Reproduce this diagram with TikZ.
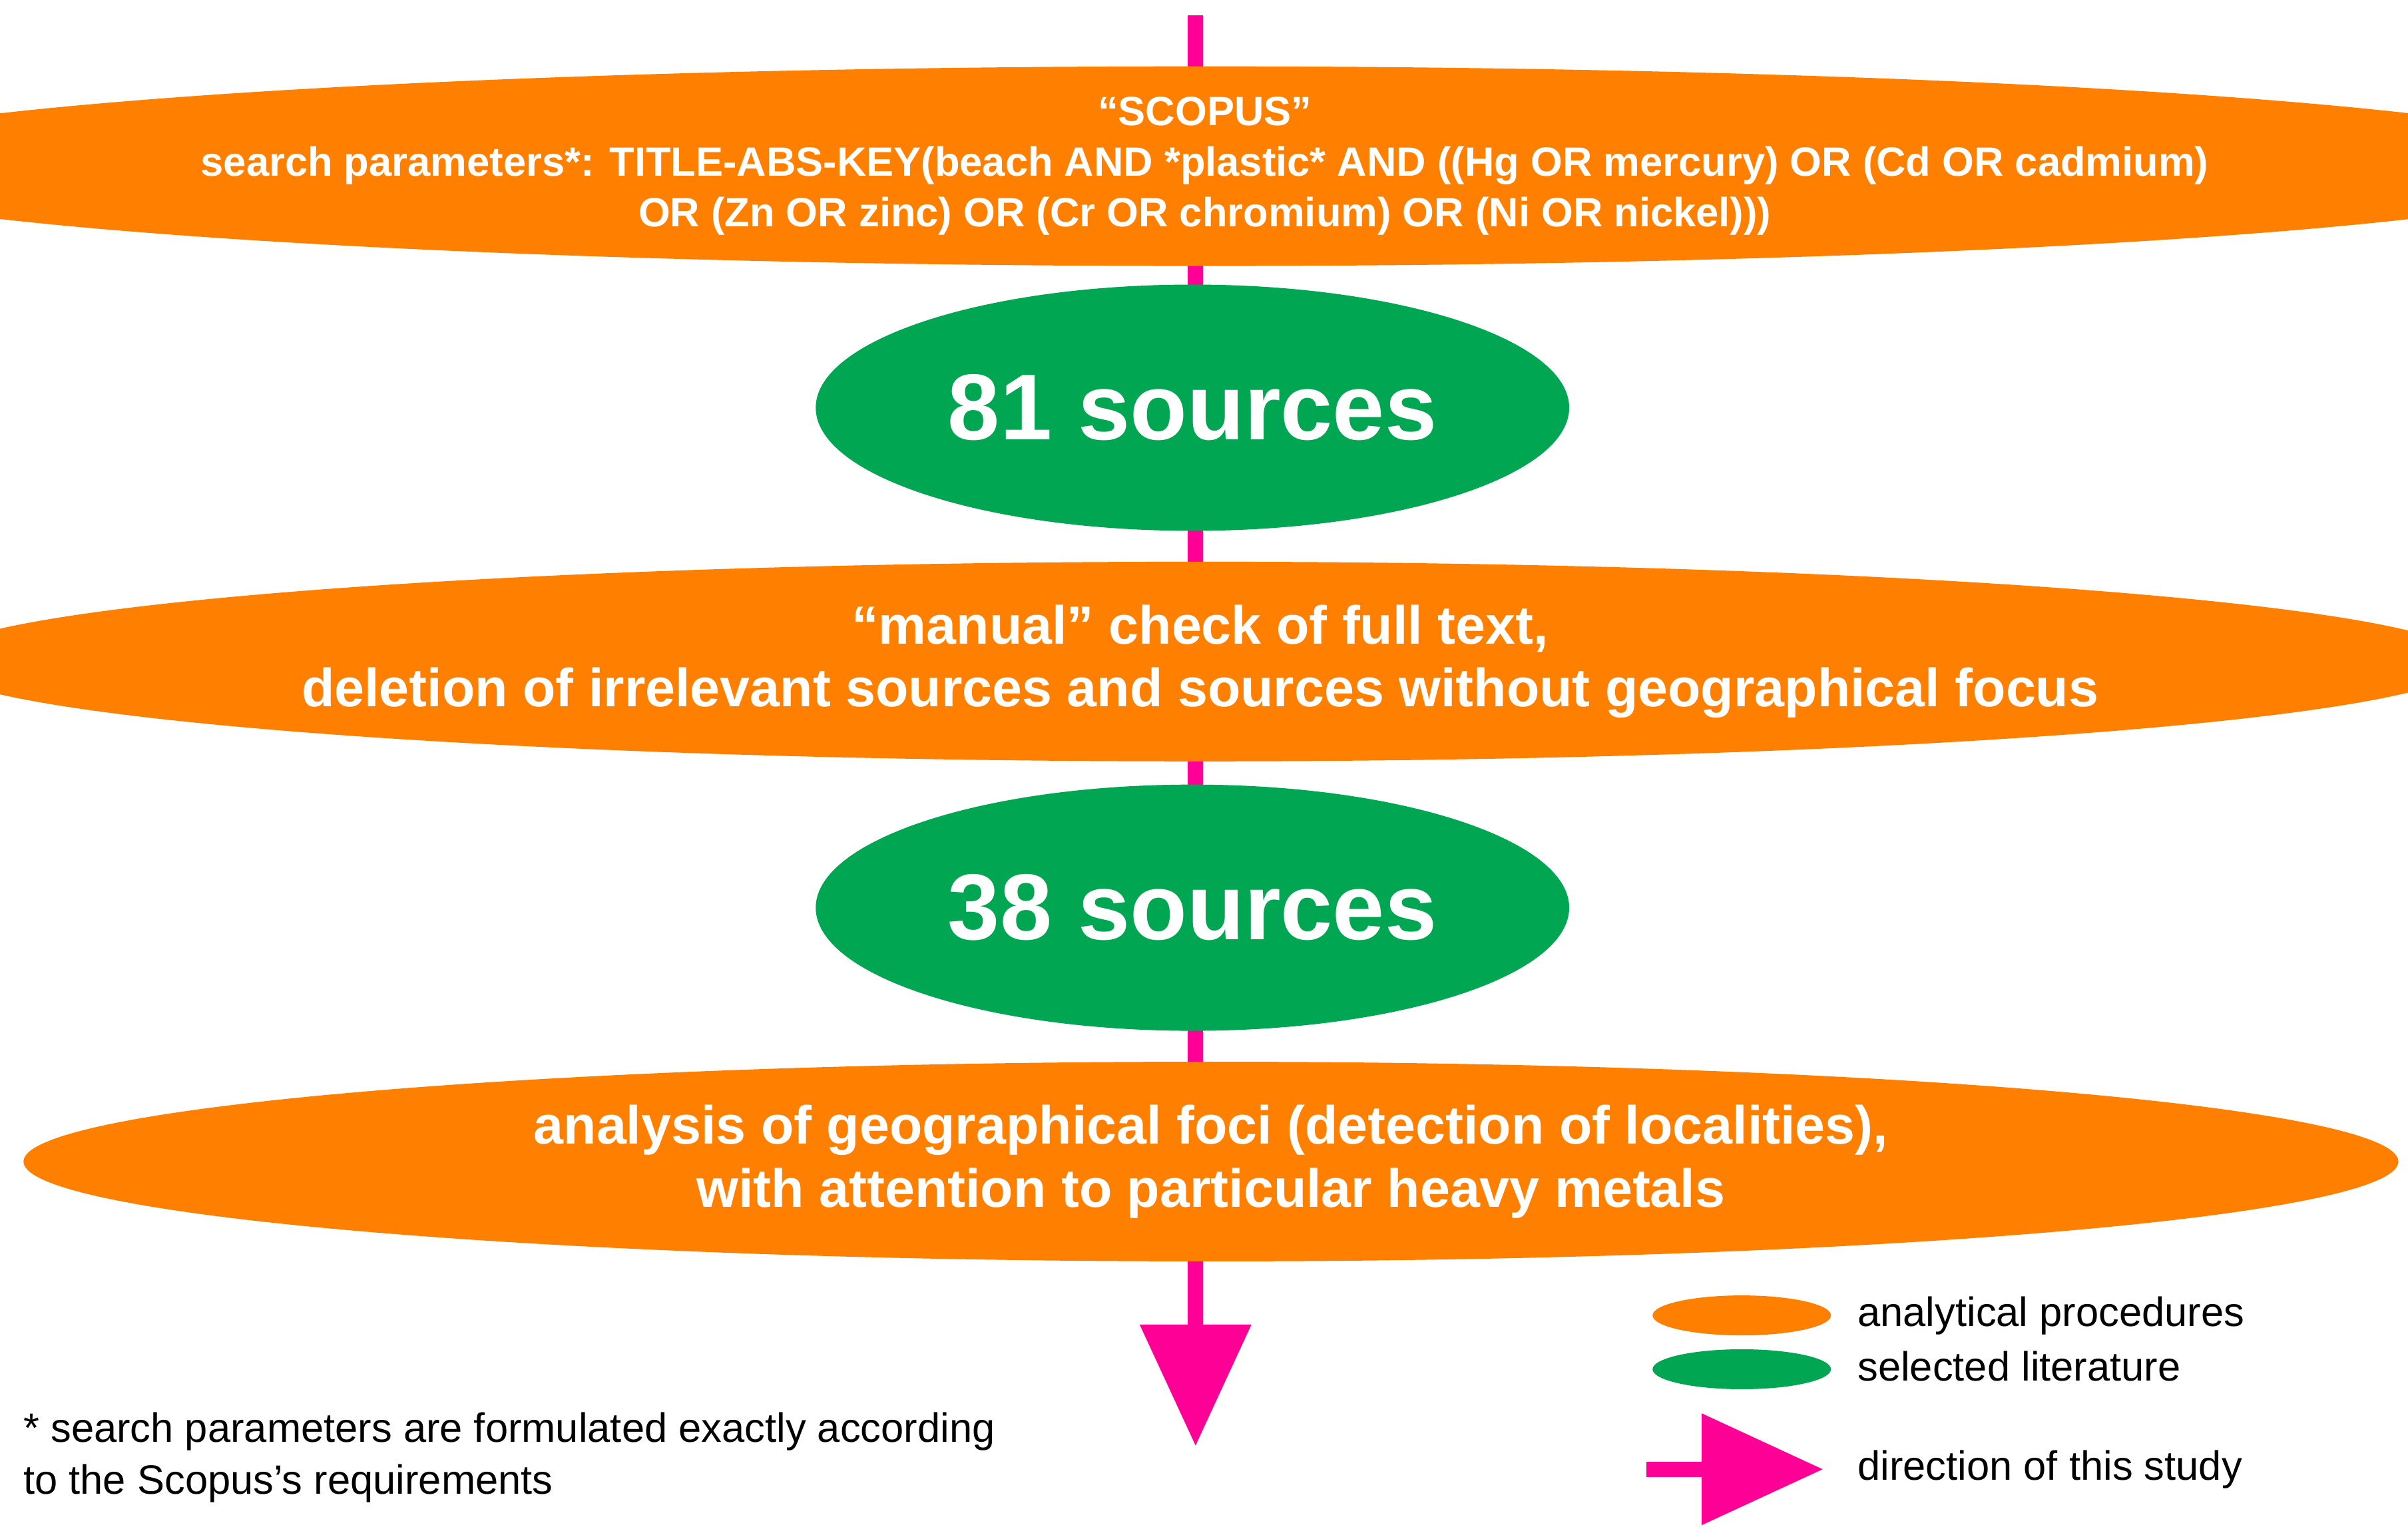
\documentclass[tikz,border=0pt]{standalone}
\usepackage{fontspec}
\setmainfont{Liberation Sans}
\usetikzlibrary{arrows.meta,shapes.geometric}
\definecolor{org}{RGB}{255,128,0}
\definecolor{grn}{RGB}{0,166,81}
\definecolor{mag}{RGB}{255,0,150}
\begin{document}
\begin{tikzpicture}[x=0.02311cm,y=-0.02311cm,
  proc/.style={ellipse,fill=org,text=white,inner sep=0pt,align=center,font=\bfseries},
  lit/.style={ellipse,fill=grn,text=white,inner sep=0pt,align=center,minimum width=11.32cm,minimum height=3.7cm,font=\bfseries\fontsize{40}{48}\selectfont},
  flow/.style={draw=mag,line width=6.5pt,-{Triangle[width=46pt,length=52pt]}},
  note/.style={anchor=west,font=\fontsize{17.5}{22}\selectfont,inner sep=0pt}]
\useasboundingbox (0,0) rectangle (1565,995);
\coordinate (top) at (777,10);
\coordinate (tip) at (777,940);
\draw[flow] (top) -- (tip);
\node[proc,minimum width=35.73cm,minimum height=3.0cm,font=\bfseries\fontsize{17.5}{21.7}\selectfont] (scopus) at (783,108)
 {“SCOPUS”\\search parameters*: TITLE-ABS-KEY(beach AND *plastic* AND ((Hg OR mercury) OR (Cd OR cadmium)\\OR (Zn OR zinc) OR (Cr OR chromium) OR (Ni OR nickel)))};
\node[lit] (s81) at (775,265) {81 sources};
\node[proc,minimum width=35.59cm,minimum height=3.0cm,font=\bfseries\fontsize{23}{27}\selectfont] (manual) at (780,430)
 {“manual” check of full text,\\deletion of irrelevant sources and sources without geographical focus};
\node[lit] (s38) at (775,590) {38 sources};
\node[proc,minimum width=35.68cm,minimum height=3.0cm,font=\bfseries\fontsize{23}{27}\selectfont] (anal) at (787,755)
 {analysis of geographical foci (detection of localities),\\with attention to particular heavy metals};
% legend
\node[ellipse,fill=org,minimum width=2.68cm,minimum height=0.6cm,inner sep=0pt] (lo) at (1132,855) {};
\node[ellipse,fill=grn,minimum width=2.68cm,minimum height=0.6cm,inner sep=0pt] (lg) at (1132,890) {};
\node[note] (to) at (1207,855) {analytical procedures};
\node[note] (tg) at (1207,888) {selected literature};
\coordinate (la) at (1070,955);
\coordinate (lb) at (1185,955);
\draw[flow] (la) -- (lb);
\node[note] (ta) at (1207,955) {direction of this study};
\node[note,align=left,anchor=north west] (fn) at (15,918) {* search parameters are formulated exactly according\\to the Scopus’s requirements};
\end{tikzpicture}
\end{document}
